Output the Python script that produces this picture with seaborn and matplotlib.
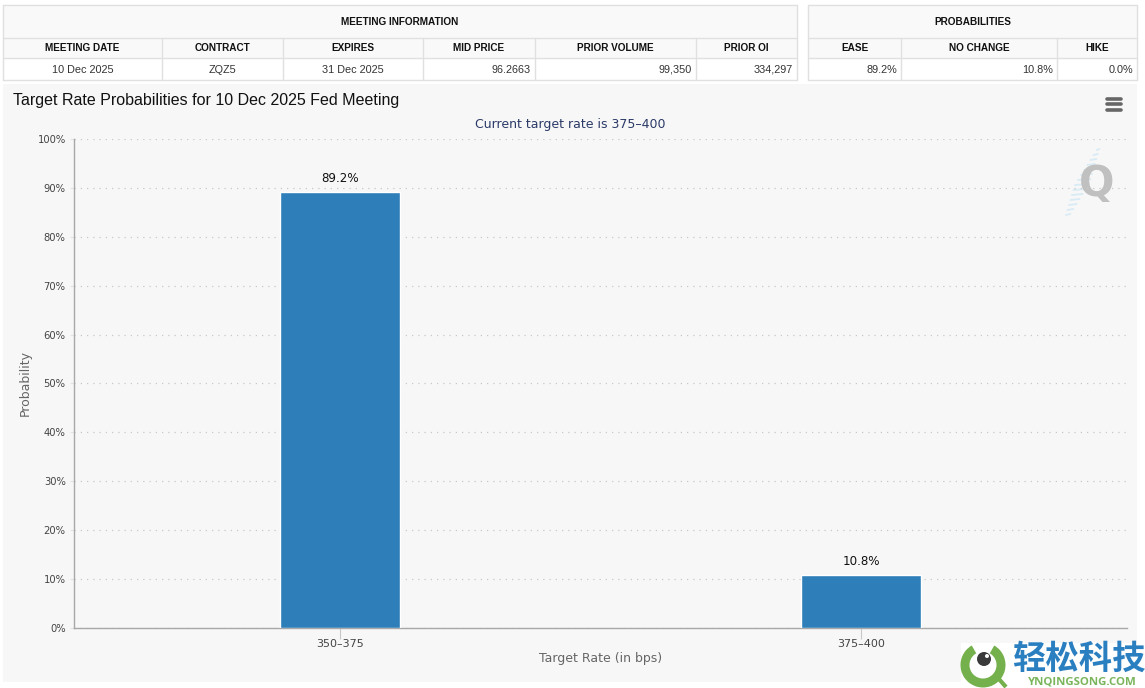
"""
Fed target rate probabilities, with the meeting info tables above the chart
"""
import matplotlib
matplotlib.use('Agg')
import matplotlib.pyplot as plt
from matplotlib.patches import Rectangle, Circle, Wedge
import seaborn as sns

target_rates = ['350\u2013375', '375\u2013400']
probabilities = [89.2, 10.8]
y_ticks = [0, 10, 20, 30, 40, 50, 60, 70, 80, 90, 100]

meeting_title = 'MEETING INFORMATION'
meeting_headers = ['MEETING DATE', 'CONTRACT', 'EXPIRES', 'MID PRICE', 'PRIOR VOLUME', 'PRIOR OI']
meeting_values = ['10 Dec 2025', 'ZQZ5', '31 Dec 2025', '96.2663', '99,350', '334,297']
meeting_aligns = ['center', 'center', 'center', 'right', 'right', 'right']
prob_title = 'PROBABILITIES'
prob_headers = ['EASE', 'NO CHANGE', 'HIKE']
prob_values = ['89.2%', '10.8%', '0.0%']
prob_aligns = ['right', 'right', 'right']

W, H = 1145, 688
BAR = '#2e7eb9'
PANEL = '#f7f7f8'
LINE = '#e0e0e0'
ROWS = [5, 38, 58, 80]


def pixel_axes(fig, zorder):
    ax = fig.add_axes([0, 0, 1, 1], zorder=zorder)
    ax.set_xlim(0, W)
    ax.set_ylim(H, 0)
    ax.axis('off')
    ax.patch.set_alpha(0)
    return ax


def draw_table(ax, cols, title, headers, values, aligns):
    left, right = cols[0], cols[-1]
    ax.add_patch(Rectangle((left, ROWS[0]), right - left, ROWS[2] - ROWS[0], fc='#f9f9f9', ec='none'))
    for y in ROWS:
        ax.plot([left, right], [y, y], color=LINE, lw=1)
    for x in (left, right):
        ax.plot([x, x], [ROWS[0], ROWS[3]], color=LINE, lw=1)
    for x in cols[1:-1]:
        ax.plot([x, x], [ROWS[1], ROWS[3]], color=LINE, lw=1)
    ax.text((left + right) / 2, 25, title, ha='center', va='baseline', fontsize=7.2,
            fontweight='bold', color='#111111')
    for i, (head, val, align) in enumerate(zip(headers, values, aligns)):
        ax.text((cols[i] + cols[i + 1]) / 2, 51, head, ha='center', va='baseline', fontsize=7.2,
                fontweight='bold', color='#111111')
        x = (cols[i] + cols[i + 1]) / 2 if align == 'center' else cols[i + 1] - 4
        ax.text(x, 73, val, ha=align, va='baseline', fontsize=7.8, color='#333333')


sns.set_theme(style='white')
plt.rcParams['font.family'] = ['DejaVu Sans']

fig = plt.figure(figsize=(W / 100, H / 100), dpi=100, facecolor='white')

# background panel and tables, in pixel coordinates
bg = pixel_axes(fig, 0)
bg.add_patch(Rectangle((3, 84), 1134, 598, fc=PANEL, ec='none'))
draw_table(bg, [3, 162, 283, 423, 535, 696, 797], meeting_title, meeting_headers,
           meeting_values, meeting_aligns)
draw_table(bg, [808, 901, 1057, 1137], prob_title, prob_headers, prob_values, prob_aligns)
for t in bg.texts:
    t.set_fontfamily('Liberation Sans')
bg.text(13, 100.5, 'Target Rate Probabilities for 10 Dec 2025 Fed Meeting', ha='left', va='center',
        fontsize=11.5, color='#111111', family='Liberation Sans')
bg.text(570, 124.5, 'Current target rate is 375\u2013400', ha='center', va='center', fontsize=9,
        color='#2b3a67')
for y in (98.5, 104, 109.5):
    bg.plot([1107, 1121], [y, y], color='#666666', lw=2.6, solid_capstyle='round')

# Q watermark of the chart
for i, y in enumerate(range(150, 218, 5)):
    half = 7 - abs(i - 7) * 0.8
    cx = 1098 - i * 2.3
    bg.plot([cx - half, cx + half], [y, y - 1], color='#d9ebf4', lw=1.3)
bg.text(1097, 184, 'Q', ha='center', va='center', fontsize=30, fontweight='bold', color='#c0c0c0',
        family='DejaVu Sans')

# main chart
ax = fig.add_axes([74 / W, 1 - 628 / H, (1127 - 74) / W, (628 - 139) / H], zorder=1)
ax.patch.set_alpha(0)
sns.barplot(x=target_rates, y=probabilities, color=BAR, saturation=1, width=0.232, ax=ax, zorder=3)
ax.set_xlim(-0.5106, 1.5106)
ax.set_ylim(0, 100)
ax.set_yticks(y_ticks)
ax.set_yticklabels([f'{v}%' for v in y_ticks])
ax.grid(axis='y', color='#c8c8c8', ls=(0, (1, 4)), lw=0.9)
ax.set_axisbelow(True)
sns.despine(ax=ax, top=True, right=True)
for side in ('left', 'bottom'):
    ax.spines[side].set_color('#a8a8a8')
    ax.spines[side].set_linewidth(1)
ax.tick_params(axis='x', length=8, width=0.8, color='#c8c8c8', labelsize=8, labelcolor='#444444', pad=0, bottom=True)
ax.tick_params(axis='y', length=3, width=0.8, color='#e4e4e4', labelsize=7.2, labelcolor='#444444', pad=3, left=True)
ax.set_xlabel('Target Rate (in bps)', fontsize=9, color='#666666', labelpad=2)
ax.set_ylabel('Probability', fontsize=9, color='#666666', labelpad=4)
ax.bar_label(ax.containers[0], fmt='%.1f%%', padding=5, fontsize=8.6, color='#111111')

# site logo in the lower right corner
fg = pixel_axes(fig, 5)
fg.add_patch(Rectangle((961, 643), 184, 45, fc='white', ec='none'))
fg.plot([998, 1006], [678, 687], color='#74b04c', lw=3, solid_capstyle='butt')
fg.add_patch(Wedge((983, 665), 22.5, -60, 240, width=9, fc='#74b04c', ec='none'))
fg.add_patch(Circle((984, 659), 7, fc='#3a3a3a', ec='none'))
fg.add_patch(Circle((987, 656), 2, fc='white', ec='none'))
fg.text(1078.5, 659, '轻松科技', ha='center', va='center', fontsize=24, fontweight='bold', color='#2a7fc0',
        family=['Noto Sans CJK SC', 'DejaVu Sans'])
fg.text(1082, 682, 'YNQINGSONG.COM', ha='center', va='center', fontsize=8.2, fontweight='bold', color='#7ab55c',
        family='Open Sans')

plt.savefig('out.png', dpi=100)
plt.close(fig)
